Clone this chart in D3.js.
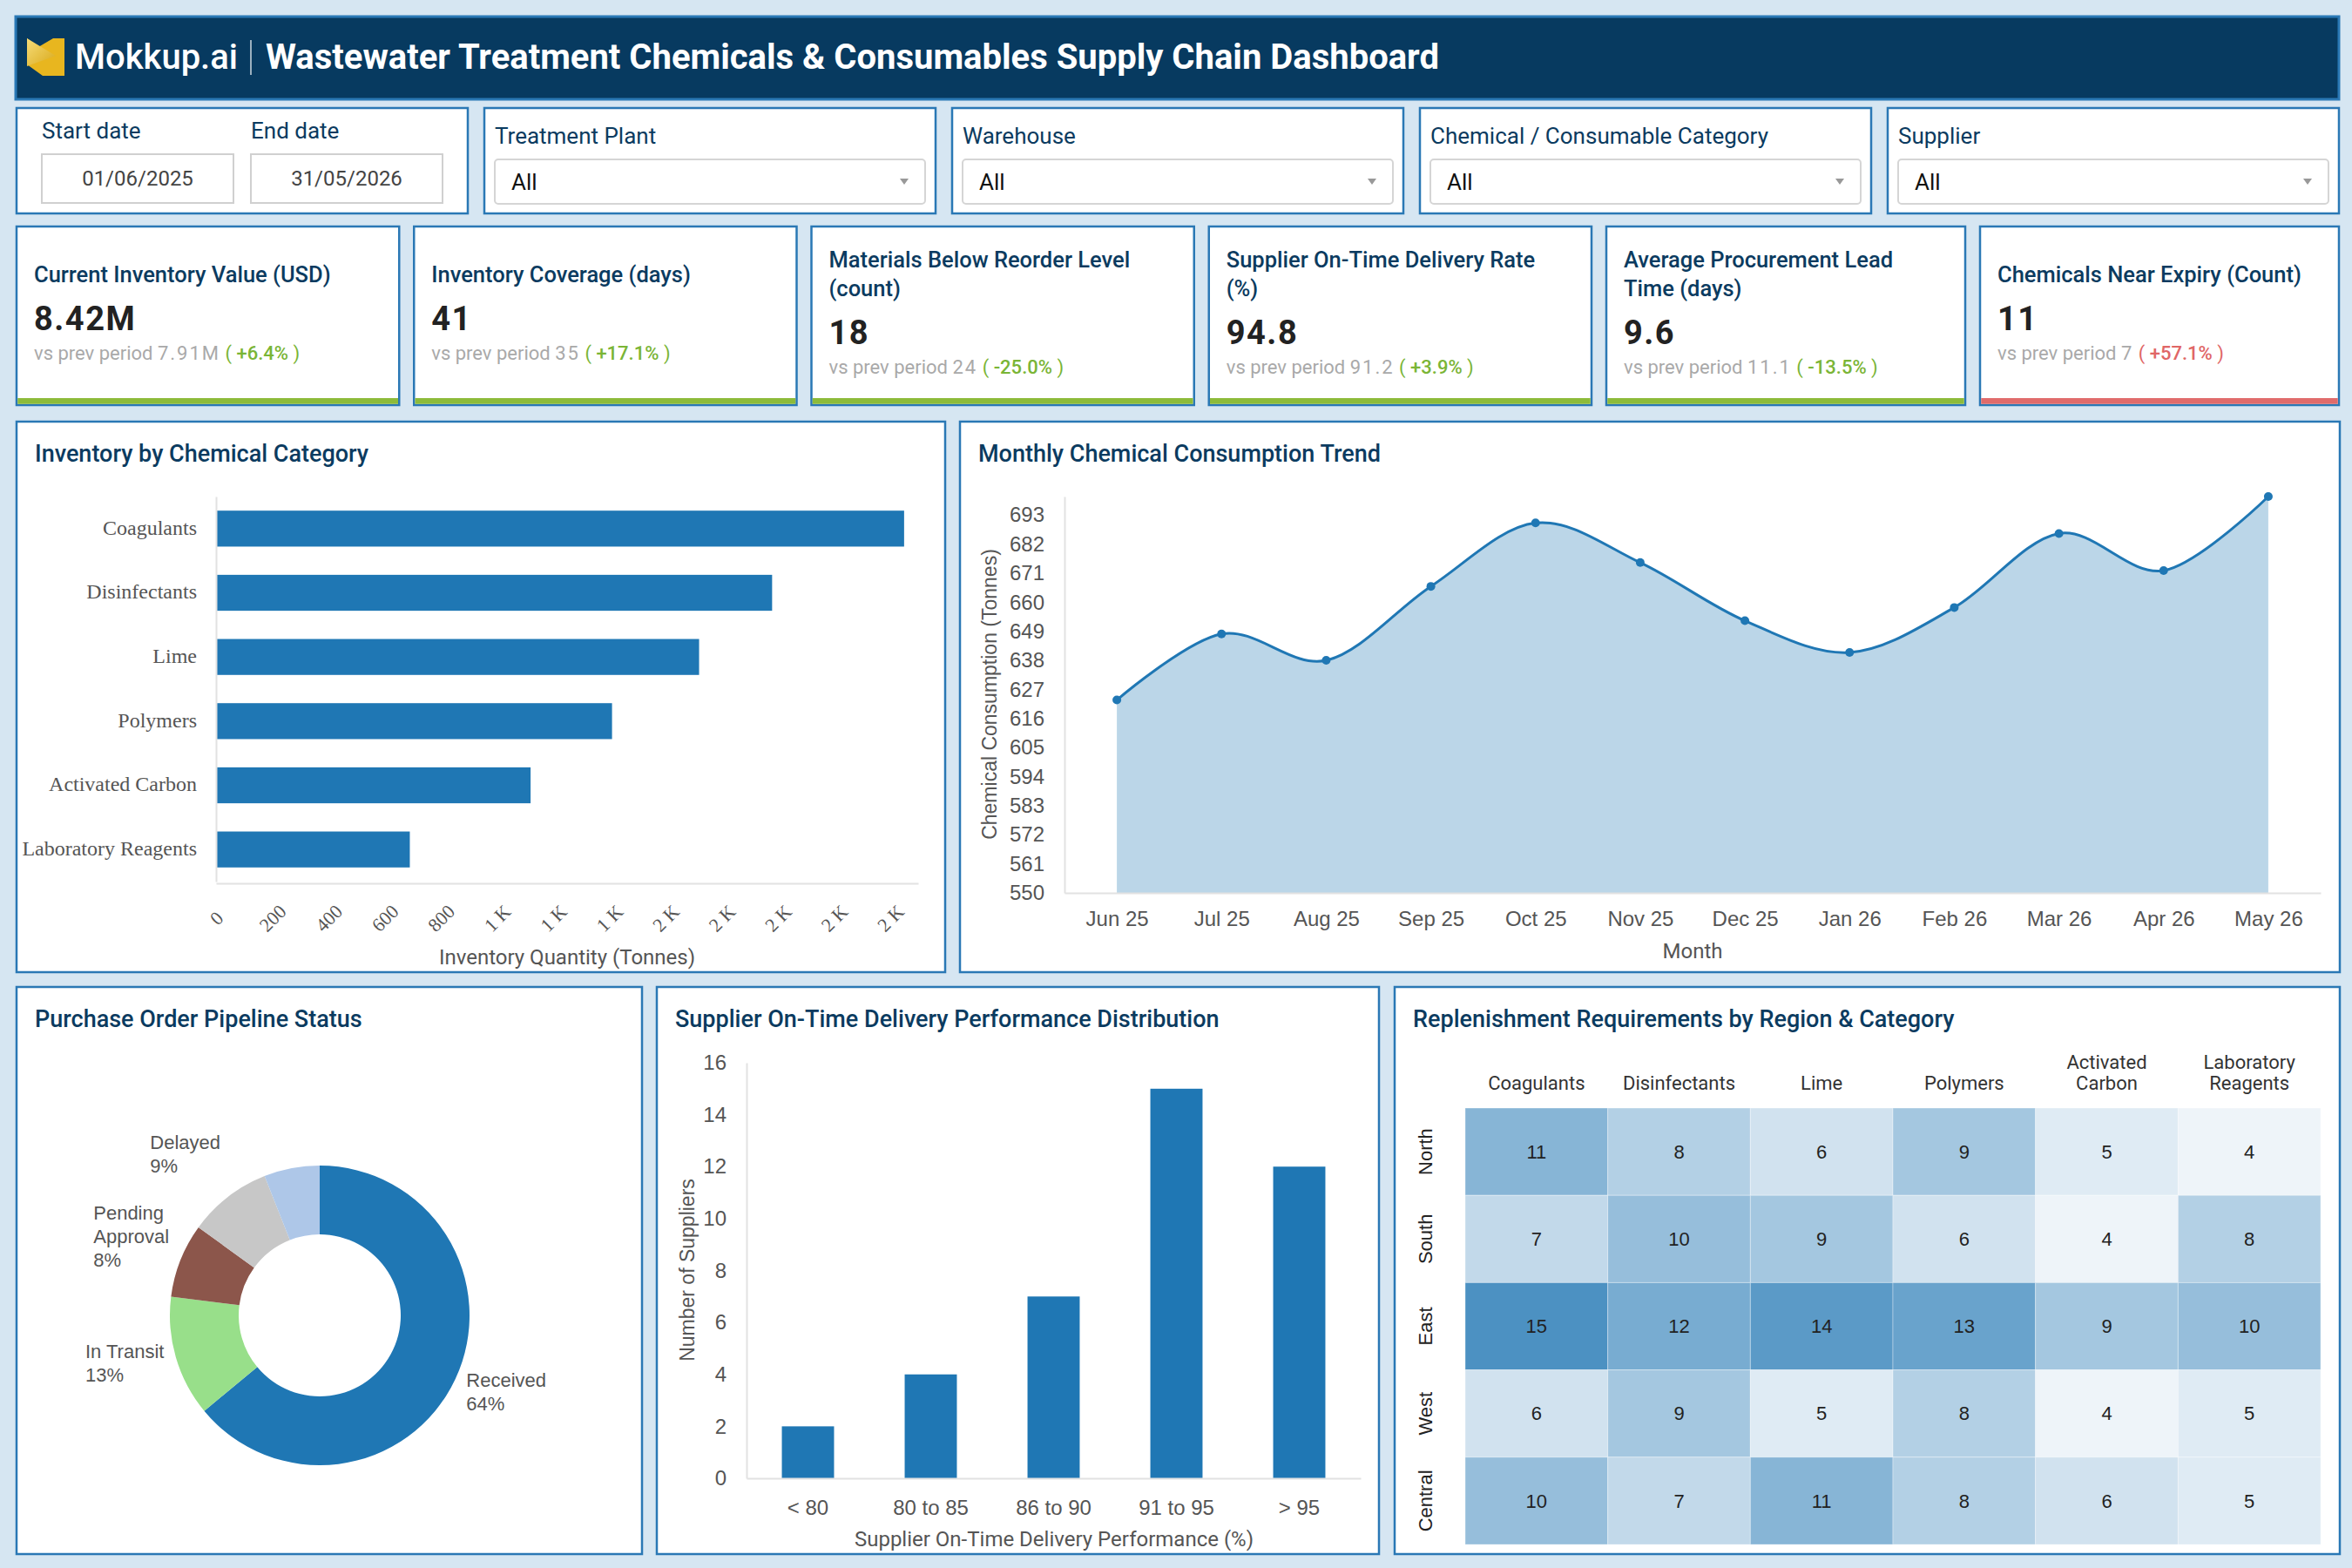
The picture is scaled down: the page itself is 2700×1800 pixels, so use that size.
<!DOCTYPE html>
<html>
<head>
<meta charset="utf-8">
<title>Wastewater Treatment Chemicals &amp; Consumables Supply Chain Dashboard</title>
<script src="https://cdn.jsdelivr.net/npm/d3@7"></script>
<style>
  body { margin: 0; background: #d6e6f2; }
  svg { display: block; font-family: Roboto, "Noto Sans", sans-serif; }
  .card { fill: #fff; stroke: #2a78b5; stroke-width: 2.5; }
  .ptitle { font-size: 27px; font-weight: 500; fill: #0b3b60; }
  .flabel { font-size: 26px; fill: #0b3b60; }
  .ktitle { font-size: 25.5px; font-weight: 500; fill: #0b3b60; }
  .kvalue { font-size: 38px; font-weight: 700; fill: #222; letter-spacing: 1.5px; }
  .ksub { font-size: 22px; fill: #a9a9a9; }
  .tick text { fill: #555; }
  .axtitle { font-size: 24px; fill: #555; }
  .ytitle { font-family: "Liberation Sans", Arial, sans-serif; font-size: 23px; fill: #555; }
  .domain { stroke: #e2e2e2; stroke-width: 2; }
  .serif { font-family: "Liberation Serif", "Times New Roman", serif; }
  .arial { font-family: "Liberation Sans", Arial, sans-serif; }
</style>
</head>
<body>
<svg id="dash" width="2700" height="1800"></svg>
<script>
// ---- data ----
const filterLabels = ["Treatment Plant", "Warehouse", "Chemical / Consumable Category", "Supplier"];
const startDate = "01/06/2025";
const endDate = "31/05/2026";

// KPI titles, one entry per displayed line
const kpiTitles = [
  ["Current Inventory Value (USD)"],
  ["Inventory Coverage (days)"],
  ["Materials Below Reorder Level", "(count)"],
  ["Supplier On-Time Delivery Rate", "(%)"],
  ["Average Procurement Lead", "Time (days)"],
  ["Chemicals Near Expiry (Count)"]
];
const kpiValues = ["8.42M", "41", "18", "94.8", "9.6", "11"];
const kpiPrev = ["7.91M", "35", "24", "91.2", "11.1", "7"];
const kpiDelta = ["+6.4%", "+17.1%", "-25.0%", "+3.9%", "-13.5%", "+57.1%"];
const kpiGood = [true, true, true, true, true, false];

const inventoryCategories = ["Coagulants", "Disinfectants", "Lime", "Polymers", "Activated Carbon", "Laboratory Reagents"];
const inventoryTonnes = [2450, 1980, 1720, 1410, 1120, 690];

const months = ["Jun 25", "Jul 25", "Aug 25", "Sep 25", "Oct 25", "Nov 25", "Dec 25", "Jan 26", "Feb 26", "Mar 26", "Apr 26", "May 26"];
const consumption = [623, 648, 638, 666, 690, 675, 653, 641, 658, 686, 672, 700];
const consumptionTicks = [550, 561, 572, 583, 594, 605, 616, 627, 638, 649, 660, 671, 682, 693];

const pipelineStatus = ["Received", "In Transit", "Pending Approval", "Delayed", "Other"];
const pipelineShare = [64, 13, 8, 9, 6];
const pipelineColors = ["#1f77b4", "#98df8a", "#8c564b", "#c7c7c7", "#aec7e8"];

const deliveryBins = ["< 80", "80 to 85", "86 to 90", "91 to 95", "> 95"];
const deliveryCounts = [2, 4, 7, 15, 12];

const regions = ["North", "South", "East", "West", "Central"];
const replenishment = [
  [11, 8, 6, 9, 5, 4],
  [7, 10, 9, 6, 4, 8],
  [15, 12, 14, 13, 9, 10],
  [6, 9, 5, 8, 4, 5],
  [10, 7, 11, 8, 6, 5]
];

// ---- helpers ----
const svg = d3.select("#dash");
const measurer = svg.append("text").attr("x", -9999).attr("y", -9999);
function textWidth(str, cls) {
  measurer.attr("class", cls).text(str);
  return measurer.node().getComputedTextLength();
}
function wrap(str, maxW, cls) {
  const words = str.split(" ");
  const lines = [];
  let cur = "";
  words.forEach(w => {
    const test = cur ? cur + " " + w : w;
    if (cur && textWidth(test, cls) > maxW) { lines.push(cur); cur = w; } else cur = test;
  });
  lines.push(cur);
  return lines;
}
function card(x, y, w, h) {
  return svg.append("rect").attr("class", "card").attr("x", x).attr("y", y).attr("width", w).attr("height", h);
}

// ---- header ----
svg.append("rect").attr("x", 18).attr("y", 19).attr("width", 2667).attr("height", 95)
  .attr("fill", "#073a60").attr("stroke", "#2a78b5").attr("stroke-width", 3);
const grad = svg.append("defs").append("linearGradient").attr("id", "gold").attr("x1", 0).attr("y1", 0).attr("x2", 1).attr("y2", 1);
grad.append("stop").attr("offset", "0%").attr("stop-color", "#f6dc78");
grad.append("stop").attr("offset", "100%").attr("stop-color", "#d9a91a");
const logo = svg.append("g").attr("transform", "translate(31,44)");
logo.append("polygon").attr("points", "0,0 13,10 30,0 43,0 43,43 18,43 0,30").attr("fill", "#e8b61f");
logo.append("polygon").attr("points", "0,0 33,20 0,32").attr("fill", "url(#gold)");
svg.append("text").attr("x", 86).attr("y", 79).attr("fill", "#fff").attr("font-size", 40).attr("font-weight", 500).text("Mokkup.ai");
svg.append("line").attr("x1", 288).attr("x2", 288).attr("y1", 46).attr("y2", 86).attr("stroke", "#fff").attr("stroke-opacity", 0.8).attr("stroke-width", 1.5);
svg.append("text").attr("x", 305).attr("y", 79).attr("fill", "#fff").attr("font-size", 40).attr("font-weight", 700)
  .text("Wastewater Treatment Chemicals & Consumables Supply Chain Dashboard");

// ---- filters ----
const fW = 518, fGap = 19, fY = 124, fH = 121;
card(19, fY, fW, fH);
[["Start date", startDate, 48], ["End date", endDate, 288]].forEach(([lab, val, x]) => {
  svg.append("text").attr("class", "flabel").attr("x", x).attr("y", 159).text(lab);
  svg.append("rect").attr("x", x).attr("y", 177).attr("width", 220).attr("height", 56)
    .attr("fill", "#fff").attr("stroke", "#d0d0d0").attr("stroke-width", 2);
  svg.append("text").attr("x", x + 110).attr("y", 213).attr("text-anchor", "middle")
    .attr("font-size", 24).attr("fill", "#444").text(val);
});
filterLabels.forEach((lab, i) => {
  const x = 19 + (i + 1) * (fW + fGap);
  card(x, fY, fW, fH);
  svg.append("text").attr("class", "flabel").attr("x", x + 12).attr("y", 165).text(lab);
  svg.append("rect").attr("x", x + 12).attr("y", 183).attr("width", 494).attr("height", 51).attr("rx", 4)
    .attr("fill", "#fff").attr("stroke", "#d5d5d5").attr("stroke-width", 2);
  svg.append("text").attr("x", x + 31).attr("y", 218).attr("font-size", 26).attr("fill", "#111").text("All");
  svg.append("path").attr("d", `M${x + 477},${205} h10 l-5,7 z`).attr("fill", "#999");
});

// ---- KPI cards ----
const kY = 260, kH = 205, kGap = 17;
const kW = [439.25, 439.25, 439.25, 439.25, 412, 412];
let kx = 19;
kpiTitles.forEach((lines, i) => {
  const x = kx, w = kW[i];
  kx += w + kGap;
  card(x, kY, w, kH);
  const good = kpiGood[i];
  svg.append("rect").attr("x", x + 1.25).attr("y", kY + kH - 8).attr("width", w - 2.5).attr("height", 6.75)
    .attr("fill", good ? "#8dbb3a" : "#e06b6b");
  const firstY = kY + 64 - (lines.length - 1) * 17; // block centred vertically
  const tt = svg.append("text").attr("class", "ktitle").attr("x", x + 20);
  lines.forEach((l, j) => tt.append("tspan").attr("x", x + 20).attr("y", firstY + j * 33).text(l));
  const lastY = firstY + (lines.length - 1) * 33;
  svg.append("text").attr("class", "kvalue").attr("x", x + 20).attr("y", lastY + 55).text(kpiValues[i]);
  const sub = svg.append("text").attr("class", "ksub").attr("x", x + 20).attr("y", lastY + 89);
  sub.append("tspan").text("vs prev period ");
  sub.append("tspan").attr("letter-spacing", 2).text(kpiPrev[i]);
  const col = good ? "#7ab536" : "#e06666";
  sub.append("tspan").attr("fill", col).text("  (  ");
  sub.append("tspan").attr("fill", col).attr("font-weight", 500).text(kpiDelta[i]);
  sub.append("tspan").attr("fill", col).text("  )");
});

// ---- panels ----
const panels = [
  { x: 19, y: 484, w: 1066, h: 632, title: "Inventory by Chemical Category" },
  { x: 1102, y: 484, w: 1584, h: 632, title: "Monthly Chemical Consumption Trend" },
  { x: 19, y: 1133, w: 718, h: 651, title: "Purchase Order Pipeline Status" },
  { x: 754, y: 1133, w: 829, h: 651, title: "Supplier On-Time Delivery Performance Distribution" },
  { x: 1601, y: 1133, w: 1085, h: 651, title: "Replenishment Requirements by Region & Category" }
];
panels.forEach(p => {
  card(p.x, p.y, p.w, p.h);
  svg.append("text").attr("class", "ptitle").attr("x", p.x + 21).attr("y", p.y + 46).text(p.title);
});

// ---- 1. horizontal bar chart ----
{
  const g = svg.append("g");
  const x = d3.scaleLinear().domain([0, 2500]).range([248, 1054]);
  const y = d3.scaleBand().domain(inventoryCategories).range([570, 1012]).paddingInner(0.44).paddingOuter(0.22);
  g.selectAll("rect.bar").data(inventoryCategories).join("rect").attr("class", "bar")
    .attr("x", x(0)).attr("y", d => y(d)).attr("height", y.bandwidth())
    .attr("width", (d, i) => x(inventoryTonnes[i]) - x(0)).attr("fill", "#1f77b4");
  const yAx = g.append("g").attr("transform", "translate(248,0)")
    .call(d3.axisLeft(y).tickSize(0).tickPadding(22));
  yAx.selectAll("text").attr("class", "serif").attr("font-size", 24).attr("dy", "0.28em");
  const kfmt = v => v < 1000 ? String(v) : Math.round(v / 1000) + " K";
  const xAx = g.append("g").attr("transform", "translate(0,1014)")
    .call(d3.axisBottom(x).tickValues(d3.range(0, 2401, 200)).tickFormat(kfmt).tickSize(0).tickSizeOuter(0));
  xAx.selectAll("text").attr("class", "serif").attr("font-size", 22)
    .attr("y", 0).attr("dy", "0.35em").attr("text-anchor", "middle")
    .attr("transform", "translate(0,40) rotate(-45)");
  g.selectAll(".domain").attr("stroke", "#e2e2e2");
  g.append("text").attr("class", "axtitle").attr("x", 651).attr("y", 1107).attr("text-anchor", "middle")
    .text("Inventory Quantity (Tonnes)");
}

// ---- 2. area / line chart ----
{
  const g = svg.append("g");
  const x = d3.scalePoint().domain(months).range([1222, 2664]).padding(0.5);
  const y = d3.scaleLinear().domain([550, d3.max(consumption)]).range([1025, 570]);
  const curve = d3.curveCardinal;
  g.append("path").datum(consumption)
    .attr("d", d3.area().x((d, i) => x(months[i])).y0(y(550)).y1(d => y(d)).curve(curve))
    .attr("fill", "#1f77b4").attr("fill-opacity", 0.3);
  g.append("path").datum(consumption)
    .attr("d", d3.line().x((d, i) => x(months[i])).y(d => y(d)).curve(curve))
    .attr("fill", "none").attr("stroke", "#1f77b4").attr("stroke-width", 3);
  g.selectAll("circle").data(consumption).join("circle")
    .attr("cx", (d, i) => x(months[i])).attr("cy", d => y(d)).attr("r", 5).attr("fill", "#1f77b4");
  const yAx = g.append("g").attr("transform", "translate(1222,0)")
    .call(d3.axisLeft(y).tickValues(consumptionTicks).tickSize(0).tickPadding(23).tickSizeOuter(0));
  yAx.selectAll("text").attr("font-size", 24);
  const xAx = g.append("g").attr("transform", "translate(0,1025)")
    .call(d3.axisBottom(x).tickSize(0).tickPadding(21).tickSizeOuter(0));
  xAx.selectAll("text").attr("font-size", 24);
  g.selectAll(".domain").attr("stroke", "#e2e2e2");
  g.append("text").attr("class", "ytitle").attr("text-anchor", "middle")
    .attr("transform", "translate(1144,797) rotate(-90)").text("Chemical Consumption (Tonnes)");
  g.append("text").attr("class", "axtitle").attr("x", 1943).attr("y", 1100).attr("text-anchor", "middle").text("Month");
}

// ---- 3. donut ----
{
  const cx = 367, cy = 1510;
  const g = svg.append("g").attr("transform", `translate(${cx},${cy})`);
  const pie = d3.pie().sort(null).value(d => d);
  const arcs = pie(pipelineShare);
  const arc = d3.arc().innerRadius(93).outerRadius(172);
  g.selectAll("path").data(arcs).join("path").attr("d", arc).attr("fill", (d, i) => pipelineColors[i]);
  arcs.forEach((a, i) => {
    if (pipelineShare[i] < 7) return; // small slices are left unlabelled
    const mid = (a.startAngle + a.endAngle) / 2;
    const ax = 186 * Math.sin(mid), ay = -224 * Math.cos(mid) - 8;
    const lines = wrap(pipelineStatus[i], 100, "arial").concat([pipelineShare[i] + "%"]);
    const bw = d3.max(lines, l => textWidth(l, "arial") * 22 / 16);
    const left = Math.sin(mid) < 0;
    const tx = left ? ax - bw : ax;
    const t = g.append("text").attr("class", "arial").attr("font-size", 22).attr("fill", "#555");
    lines.forEach((l, j) => t.append("tspan").attr("x", tx)
      .attr("y", ay - (lines.length - 1) * 27 / 2 + j * 27).attr("dy", "0.35em").text(l));
  });
}

// ---- 4. vertical bar chart ----
{
  const g = svg.append("g");
  const x = d3.scaleBand().domain(deliveryBins).range([857, 1562]).paddingInner(0.575).paddingOuter(0.2875);
  const y = d3.scaleLinear().domain([0, 16]).range([1697, 1220]);
  g.selectAll("rect").data(deliveryCounts).join("rect")
    .attr("x", (d, i) => x(deliveryBins[i])).attr("width", x.bandwidth())
    .attr("y", d => y(d)).attr("height", d => y(0) - y(d)).attr("fill", "#1f77b4");
  const yAx = g.append("g").attr("transform", "translate(857,0)")
    .call(d3.axisLeft(y).ticks(8).tickSize(0).tickPadding(23).tickSizeOuter(0));
  yAx.selectAll("text").attr("font-size", 24);
  const xAx = g.append("g").attr("transform", "translate(0,1697)")
    .call(d3.axisBottom(x).tickSize(0).tickPadding(25).tickSizeOuter(0));
  xAx.selectAll("text").attr("font-size", 24);
  g.selectAll(".domain").attr("stroke", "#e2e2e2");
  g.append("text").attr("class", "ytitle").attr("text-anchor", "middle")
    .attr("transform", "translate(797,1458) rotate(-90)").text("Number of Suppliers");
  g.append("text").attr("class", "axtitle").attr("x", 1210).attr("y", 1775).attr("text-anchor", "middle")
    .text("Supplier On-Time Delivery Performance (%)");
}

// ---- 5. heatmap ----
{
  const g = svg.append("g");
  const x = d3.scaleBand().domain(inventoryCategories).range([1682, 2664]);
  const y = d3.scaleBand().domain(regions).range([1272, 1773]);
  const all = replenishment.flat();
  const color = d3.scaleLinear().domain(d3.extent(all)).range(["#eef4f9", "#4c91c2"]);
  const cells = [];
  regions.forEach((r, ri) => inventoryCategories.forEach((c, ci) => cells.push({ r, c, v: replenishment[ri][ci] })));
  g.selectAll("rect").data(cells).join("rect")
    .attr("x", d => x(d.c)).attr("y", d => y(d.r)).attr("width", x.bandwidth()).attr("height", y.bandwidth())
    .attr("fill", d => color(d.v)).attr("stroke", "#fff").attr("stroke-opacity", 0.35).attr("stroke-width", 1);
  g.selectAll("text.val").data(cells).join("text").attr("class", "val arial")
    .attr("x", d => x(d.c) + x.bandwidth() / 2).attr("y", d => y(d.r) + y.bandwidth() / 2)
    .attr("dy", "0.35em").attr("text-anchor", "middle").attr("font-size", 22).attr("fill", "#222").text(d => d.v);
  inventoryCategories.forEach(c => {
    const lines = wrap(c, 150 * 16 / 22, "");
    const t = g.append("text").attr("text-anchor", "middle").attr("font-size", 22).attr("fill", "#333");
    lines.forEach((l, j) => t.append("tspan").attr("x", x(c) + x.bandwidth() / 2)
      .attr("y", 1243 - (lines.length - 1 - j) * 24).attr("dy", "0.35em").text(l));
  });
  regions.forEach(r => {
    g.append("text").attr("class", "arial").attr("font-size", 22).attr("fill", "#222").attr("text-anchor", "middle")
      .attr("transform", `translate(1636,${y(r) + y.bandwidth() / 2}) rotate(-90)`).attr("dy", "0.35em").text(r);
  });
}
measurer.remove();
</script>
</body>
</html>
